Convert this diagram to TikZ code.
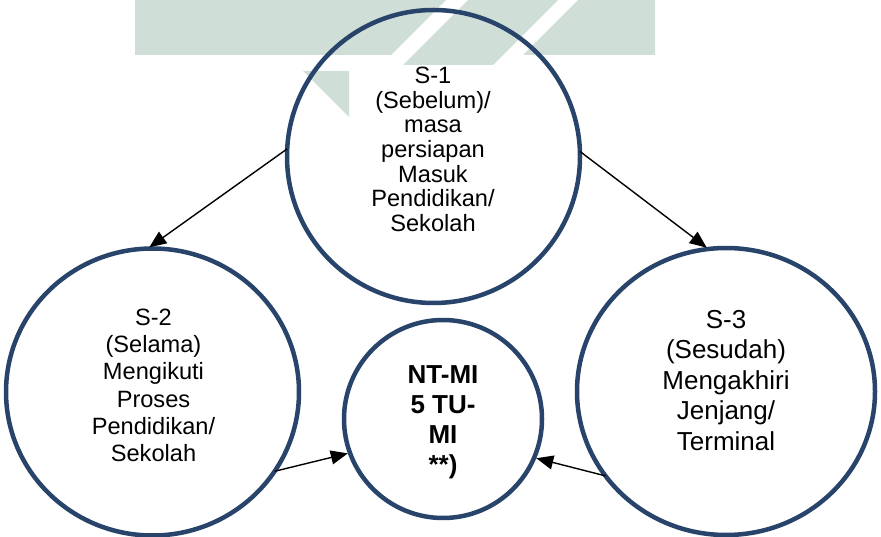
\documentclass[tikz,border=0pt]{standalone}
\usepackage{fontspec}
\setmainfont{Liberation Sans}
\usetikzlibrary{arrows.meta,shapes.geometric}
\definecolor{ringblue}{RGB}{40,68,106}
\definecolor{wmgreen}{RGB}{207,223,215}
\begin{document}
\begin{tikzpicture}[x=1pt,y=-1pt,
  ring/.style={draw=ringblue,line width=4.5pt,ellipse,inner sep=0pt,outer sep=0pt},
  lbl/.style={align=center,anchor=base,inner sep=0pt},
  conn/.style={line width=1.4pt,shorten >=2.2pt,-{Triangle[length=17pt,width=14pt]}},
  wm/.style={fill=wmgreen,draw=none}]
\useasboundingbox (0,0) rectangle (881,537);
% watermark
\fill[wm] (135,0) -- (446,0) -- (391,55) -- (135,55) -- cycle;
\fill[wm] (468,0) -- (558,0) -- (493,65) -- (403,65) -- cycle;
\fill[wm] (578,0) -- (655,0) -- (655,55) -- (523,55) -- cycle;
\fill[wm] (303,71) -- (349,71) -- (349,117) -- cycle;
% circles
\node[ring,minimum width=293pt,minimum height=293pt] (s1) at (433.5,156.5) {};
\node[ring,minimum width=293pt,minimum height=287pt] (s2) at (152.5,392) {};
\node[ring,minimum width=298pt,minimum height=287pt] (s3) at (726,391.5) {};
\node[ring,minimum width=198pt,minimum height=198pt] (c) at (443,419) {};
% labels (anchored at the baseline of the last line)
\node[lbl,font=\fontsize{23.6}{24.7}\selectfont] (t1) at (433,231.7)
  {S-1\\(Sebelum)/\\masa\\persiapan\\Masuk\\Pendidikan/\\Sekolah};
\node[lbl,font=\fontsize{23.6}{27.3}\selectfont] (t2) at (153.5,461.7)
  {S-2\\(Selama)\\Mengikuti\\Proses\\Pendidikan/\\Sekolah};
\node[lbl,font=\fontsize{26}{30.4}\selectfont] (t3) at (726,450)
  {S-3\\(Sesudah)\\Mengakhiri\\Jenjang/\\Terminal};
\node[lbl,font=\fontsize{26}{30}\selectfont\bfseries] (t4) at (443,473)
  {NT-MI\\5 TU-\\MI\\**)};
% connectors
\draw[conn] (s1.177.5) -- (s2.92);
\draw[conn] (s1.2.5) -- (s3.97);
\draw[conn] (s2.-33.8) -- (c.200);
\draw[conn] (s3.215.7) -- (c.-23.7);
\end{tikzpicture}
\end{document}
